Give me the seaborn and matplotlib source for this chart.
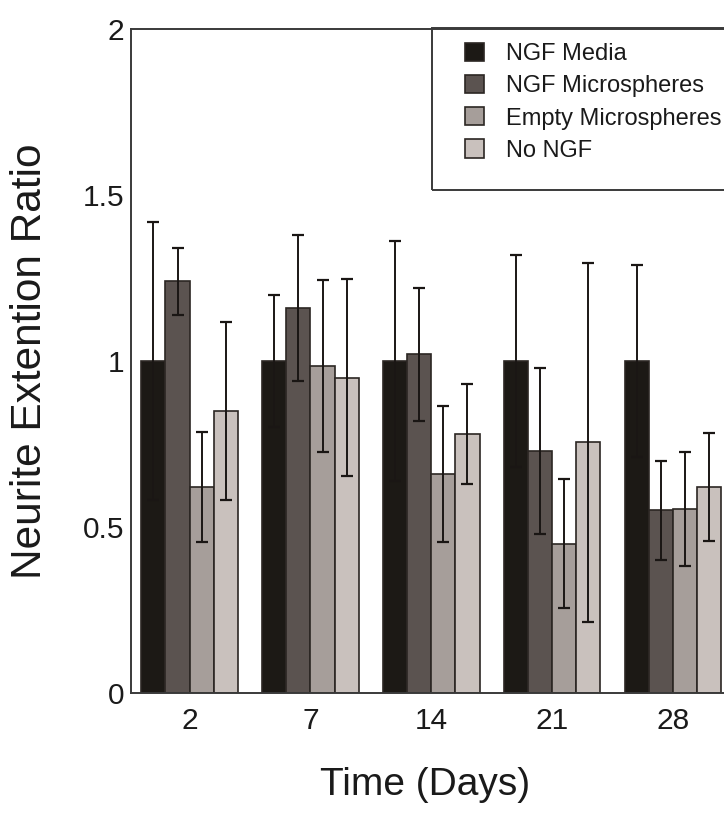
import matplotlib
matplotlib.use("Agg")
import matplotlib.pyplot as plt
from matplotlib.patches import Rectangle
import seaborn as sns
import pandas as pd
import numpy as np

days = ["2", "7", "14", "21", "28"]
groups = ["NGF Media", "NGF Microspheres", "Empty Microspheres", "No NGF"]
ngf_media = [1.0, 1.0, 1.0, 1.0, 1.0]
ngf_micro = [1.24, 1.16, 1.02, 0.73, 0.55]
empty_micro = [0.62, 0.985, 0.66, 0.45, 0.555]
no_ngf = [0.85, 0.95, 0.78, 0.755, 0.62]
err_media = [0.42, 0.20, 0.36, 0.32, 0.29]
err_micro = [0.10, 0.22, 0.20, 0.25, 0.15]
err_empty = [0.165, 0.26, 0.205, 0.195, 0.172]
err_no = [0.268, 0.297, 0.15, 0.54, 0.163]

colors = ["#1c1915", "#5b5350", "#a69e9a", "#c9c1bd"]

means = [ngf_media, ngf_micro, empty_micro, no_ngf]
errs = [err_media, err_micro, err_empty, err_no]

rows = []
for g, m, e in zip(groups, means, errs):
    for d, v, ev in zip(days, m, e):
        rows.append({"Day": d, "Group": g, "Value": v, "Err": ev})
df = pd.DataFrame(rows)

sns.set_theme(style="white")
plt.rcParams["font.family"] = ["Liberation Sans", "DejaVu Sans"]

fig = plt.figure(figsize=(7.24, 8.13), dpi=100)
ax = fig.add_axes([131/724, 1 - 693/813, 1 - 131/724, 664/813])

sns.barplot(data=df, x="Day", y="Value", hue="Group", order=days,
            hue_order=groups, palette=colors, errorbar=None, width=0.8,
            edgecolor="#2b2623", linewidth=1.2, saturation=1, ax=ax)

for cont, g in zip(ax.containers, groups):
    sub = df[df["Group"] == g].set_index("Day").loc[days]
    xs = [p.get_x() + p.get_width() / 2 for p in cont.patches]
    ax.errorbar(xs, sub["Value"].values, yerr=sub["Err"].values, fmt="none",
                ecolor="#1a1614", elinewidth=1.4, capsize=4, capthick=1.6,
                zorder=5)

ax.set_ylim(0, 2)
ax.set_xlim(-0.485, 4.423)
ax.set_yticks([0, 0.5, 1, 1.5, 2])
ax.set_yticklabels(["0", "0.5", "1", "1.5", "2"])
ax.tick_params(axis="both", length=0, labelsize=21.5, colors="#1a1a1a")
ax.tick_params(axis="x", pad=10)
ax.tick_params(axis="y", pad=5)

ax.set_xlabel("Time (Days)", fontsize=28, color="#1a1a1a")
ax.set_ylabel("Neurite Extention Ratio", fontsize=30.5, color="#1a1a1a")
ax.xaxis.set_label_coords((425 - 131) / 593, -0.112)
ax.yaxis.set_label_coords(-0.1366, 0.5)

for s in ["left", "top", "bottom"]:
    ax.spines[s].set_visible(True)
    ax.spines[s].set_color("#3a3a3a")
    ax.spines[s].set_linewidth(1.4)
ax.spines["right"].set_visible(False)

handles, labels = ax.get_legend_handles_labels()
leg = ax.legend(handles, labels, loc="upper left",
                bbox_to_anchor=(465/724, 1 - 43/813), bbox_transform=fig.transFigure,
                frameon=False, fontsize=17, handlelength=0.8, handleheight=0.8,
                handletextpad=0.95, labelspacing=0.42, borderpad=0, borderaxespad=0)
for t in leg.get_texts():
    t.set_color("#1a1a1a")

box = Rectangle((432/724, 1 - 190/813), 0.5, (190 - 28.5)/813,
                transform=fig.transFigure, fill=False, edgecolor="#3a3a3a",
                linewidth=1.4, clip_on=False)
fig.patches.append(box)

fig.savefig("out.png", dpi=100)
